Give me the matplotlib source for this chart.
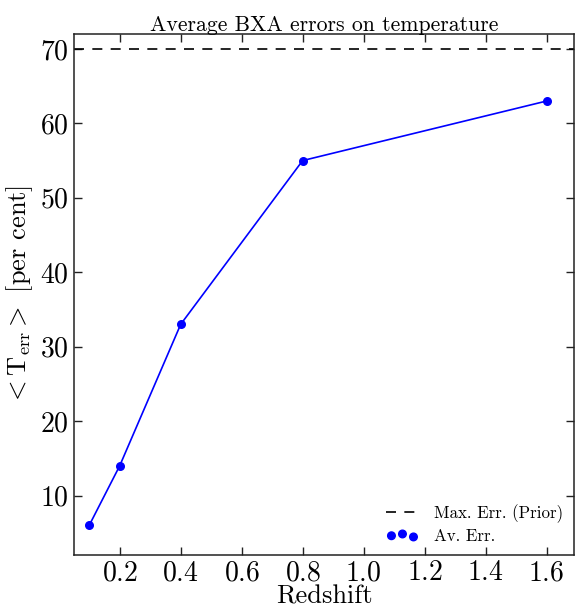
import matplotlib
matplotlib.use('Agg')
import matplotlib.pyplot as plt

plt.rcParams['font.family'] = 'serif'
plt.rcParams['font.serif'] = ['cmr10']
plt.rcParams['mathtext.fontset'] = 'cm'
plt.rcParams['axes.formatter.use_mathtext'] = True

redshift = [0.1, 0.2, 0.4, 0.8, 1.6]
av_err = [6, 14, 33, 55, 63]
prior_err = 70

fig = plt.figure(figsize=(5.78, 6.08), dpi=100)
ax = fig.add_axes([0.128, 0.087, 0.865, 0.857])

ax.axhline(prior_err, color='k', ls='--', lw=1.2, dashes=(6, 5), label='Max. Err. (Prior)')
ax.plot(redshift, av_err, color='b', lw=1.2)
ax.scatter(redshift, av_err, color='b', s=30, zorder=3, label='Av. Err.')

ax.set_xlim(0.05, 1.69)
ax.set_ylim(2, 72)
ax.set_xticks([0.2, 0.4, 0.6, 0.8, 1.0, 1.2, 1.4, 1.6])
ax.set_yticks([10, 20, 30, 40, 50, 60, 70])
ax.tick_params(direction='in', top=True, right=True, length=6, width=1,
               labelsize=20, colors='#222222', labelcolor='k')
for s in ax.spines.values():
    s.set_linewidth(1.1)
    s.set_color('#222222')

ax.set_title('Average BXA errors on temperature', fontsize=15.7, pad=2.5)
ax.set_xlabel('Redshift', fontsize=19, labelpad=-1)
ax.set_ylabel(r'$<\mathrm{T}_{\rm err}>$ [per cent]', fontsize=19, labelpad=4)

ax.legend(loc='lower right', frameon=False, fontsize=12.2, handlelength=1.9,
          handletextpad=0.9, borderaxespad=0.25, labelspacing=0.35,
          scatterpoints=3, scatteryoffsets=[0.45, 0.6, 0.35])

fig.savefig('out.png', dpi=100)
